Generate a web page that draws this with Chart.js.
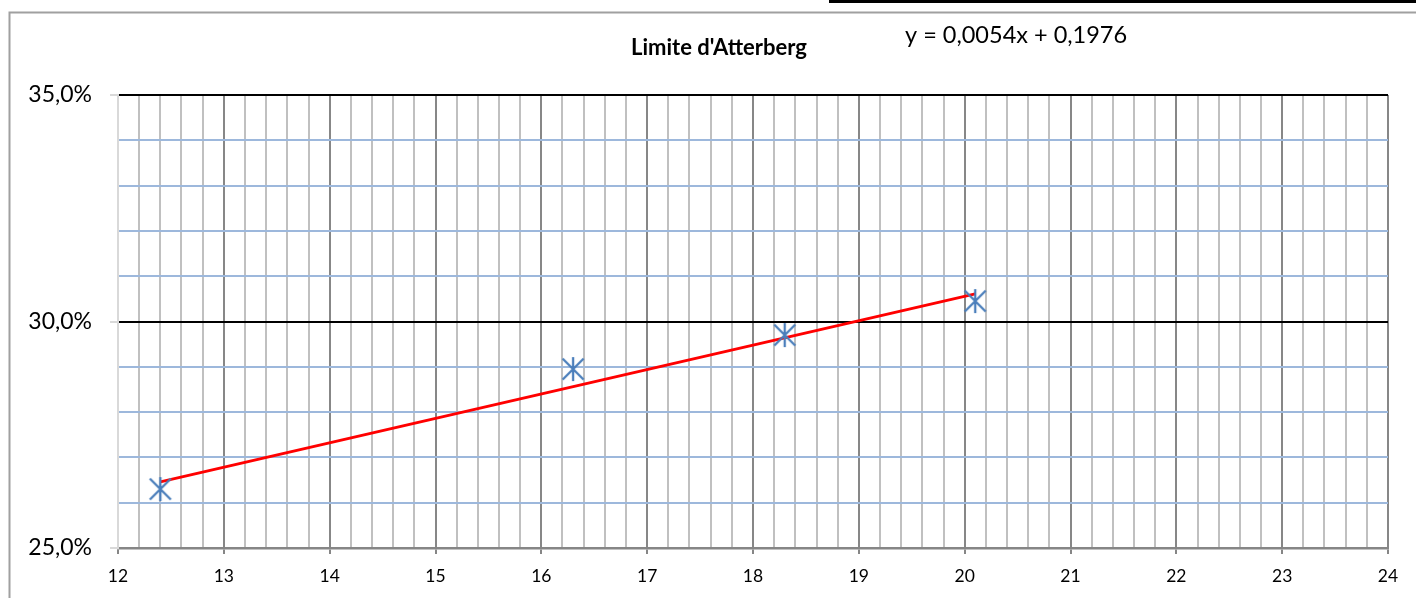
<!DOCTYPE html>
<html>
<head>
<meta charset="utf-8">
<script src="https://cdn.jsdelivr.net/npm/chart.js@4/dist/chart.umd.min.js"></script>
<style>
  html, body { margin: 0; padding: 0; background: #ffffff; }
  #wrap { width: 1416px; height: 598px; position: relative; }
</style>
</head>
<body>
<div id="wrap"><canvas id="c" width="1416" height="598"></canvas></div>
<script>
// ---- data ----
const xValues = [12.4, 16.3, 18.3, 20.1];
const yValues = [26.3, 28.95, 29.7, 30.45];          // percent
const trendX = [12.4, 20.1];
const trendY = [26.46, 30.61];                        // percent
const xTickLabels = ['12','13','14','15','16','17','18','19','20','21','22','23','24'];
const yTickLabels = ['25,0%', '30,0%', '35,0%'];
const titleText = "Limite d'Atterberg";
const equationText = 'y = 0,0054x + 0,1976';

const FONT = 'Lato, "Open Sans", "DejaVu Sans", sans-serif';

function isInt(v) { return Math.abs(v - Math.round(v)) < 1e-6; }

// custom Excel-like star marker (× with a vertical bar)
function makeStar() {
  const c = document.createElement('canvas');
  c.width = 26; c.height = 28;
  const g = c.getContext('2d');
  g.strokeStyle = '#4a7ebb';
  g.lineWidth = 2.3;
  g.beginPath();
  g.moveTo(2.5, 3.5); g.lineTo(23.5, 24.5);
  g.moveTo(23.5, 3.5); g.lineTo(2.5, 24.5);
  g.moveTo(13, 2); g.lineTo(13, 26);
  g.stroke();
  return c;
}
const starImg = makeStar();

const scatterData = xValues.map((x, i) => ({x: x, y: yValues[i]}));
const trendData = trendX.map((x, i) => ({x: x, y: trendY[i]}));

const decorPlugin = {
  id: 'decor',
  beforeDraw(chart) {
    const ctx = chart.ctx;
    ctx.save();
    ctx.fillStyle = '#ffffff';
    ctx.fillRect(0, 0, chart.width, chart.height);
    // chart frame (grey)
    ctx.strokeStyle = '#a0a0a0';
    ctx.lineWidth = 2;
    ctx.beginPath();
    ctx.moveTo(9.5, 598);
    ctx.lineTo(9.5, 12.5);
    ctx.lineTo(1416, 12.5);
    ctx.stroke();
    // black bar at the top right
    ctx.fillStyle = '#000000';
    ctx.fillRect(829, 0, 1416 - 829, 3);
    ctx.restore();
  },
  afterDraw(chart) {
    const ctx = chart.ctx;
    ctx.save();
    ctx.fillStyle = '#000000';
    ctx.textBaseline = 'middle';
    ctx.textAlign = 'center';
    ctx.font = 'bold 22px ' + FONT;
    ctx.fillText(titleText, 719, 48);
    ctx.textAlign = 'left';
    ctx.font = '23.5px ' + FONT;
    ctx.fillText(equationText, 905, 35);
    ctx.restore();
  }
};

new Chart(document.getElementById('c'), {
  type: 'scatter',
  data: {
    datasets: [
      {
        label: 'Trend',
        type: 'line',
        data: trendData,
        borderColor: '#ff0000',
        borderWidth: 3,
        pointRadius: 0,
        fill: false,
        tension: 0,
        order: 2
      },
      {
        label: 'Points',
        data: scatterData,
        pointStyle: starImg,
        pointRadius: 12,
        order: 1
      }
    ]
  },
  plugins: [decorPlugin],
  options: {
    responsive: false,
    animation: false,
    events: [],
    layout: { padding: { left: 0, top: 95, right: 28, bottom: 0 } },
    plugins: { legend: { display: false }, title: { display: false }, tooltip: { enabled: false } },
    scales: {
      x: {
        type: 'linear',
        min: 12, max: 24,
        afterFit(scale) { scale.height = 50; },
        border: { display: true, color: '#868686', width: 2.5 },
        grid: {
          color: (c) => isInt(c.tick.value) ? '#878787' : '#c0c0c0',
          lineWidth: 2,
          drawTicks: true,
          tickLength: 6,
          tickColor: (c) => isInt(c.tick.value) ? '#868686' : 'rgba(0,0,0,0)'
        },
        ticks: {
          stepSize: 0.2,
          autoSkip: false,
          maxRotation: 0,
          padding: 12,
          color: '#000000',
          font: { family: FONT, size: 17.5 },
          callback: (v) => isInt(v) ? xTickLabels[Math.round(v) - 12] : ''
        }
      },
      y: {
        type: 'linear',
        min: 25, max: 35,
        afterFit(scale) { scale.width = 118; },
        border: { display: true, color: '#d9d9d9', width: 2 },
        grid: {
          color: (c) => {
            const v = c.tick.value;
            if (Math.abs(v - 30) < 1e-6 || Math.abs(v - 35) < 1e-6) return '#000000';
            if (Math.abs(v - 25) < 1e-6) return 'rgba(0,0,0,0)';
            return '#9db8dc';
          },
          lineWidth: 2,
          drawTicks: true,
          tickLength: 8,
          tickColor: (c) => (Math.abs(c.tick.value % 5) < 1e-6) ? '#d9d9d9' : 'rgba(0,0,0,0)'
        },
        ticks: {
          stepSize: 1,
          autoSkip: false,
          padding: 18,
          color: '#000000',
          font: { family: FONT, size: 23 },
          callback: (v) => (Math.abs(v % 5) < 1e-6) ? yTickLabels[Math.round((v - 25) / 5)] : ''
        }
      }
    }
  }
});
</script>
</body>
</html>
